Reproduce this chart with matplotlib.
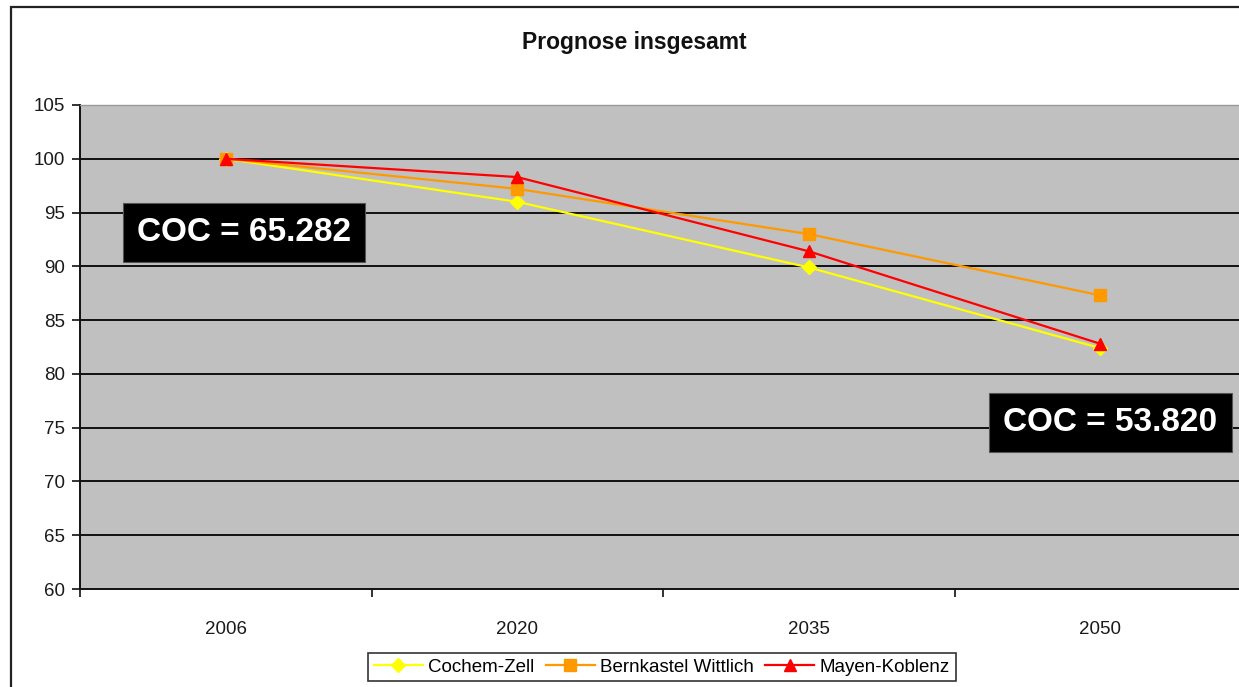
import matplotlib
matplotlib.use('Agg')
import matplotlib.pyplot as plt
from matplotlib.patches import Rectangle

plt.rcParams['font.family'] = ['Liberation Sans', 'DejaVu Sans']

# Daten: Index 2006 = 100
jahre = ['2006', '2020', '2035', '2050']
cochem_zell = [100.0, 96.0, 89.9, 82.4]
bernkastel_wittlich = [100.0, 97.2, 93.0, 87.3]
mayen_koblenz = [100.0, 98.3, 91.4, 82.8]
y_ticks = [60, 65, 70, 75, 80, 85, 90, 95, 100, 105]
gitter = [65, 70, 75, 80, 85, 90, 95, 100]

fig = plt.figure(figsize=(12.39, 6.87), dpi=100)
fig.patch.set_facecolor('white')

# Rahmen um das ganze Diagramm
fig.add_artist(Rectangle((11 / 1239, -0.1), 1.2, 1.1 - 7 / 687,
                         transform=fig.transFigure, fill=False,
                         edgecolor='#222222', linewidth=1.6, zorder=0))

ax = fig.add_axes([80 / 1239, 1 - 589 / 687, 1166 / 1239, 484 / 687])
ax.set_facecolor('#C0C0C0')

x = range(len(jahre))
for yy in gitter:
    ax.axhline(yy, color='#111111', linewidth=1.4, zorder=1)

ax.plot(x, cochem_zell, color='#FFFF00', linewidth=1.6, marker='D',
        markersize=7, label='Cochem-Zell', zorder=3)
ax.plot(x, bernkastel_wittlich, color='#FF9900', linewidth=1.6, marker='s',
        markersize=8, label='Bernkastel Wittlich', zorder=3)
ax.plot(x, mayen_koblenz, color='#FF0000', linewidth=1.6, marker='^',
        markersize=9, label='Mayen-Koblenz', zorder=4)

ax.set_xlim(-0.5, len(jahre) - 0.5)
ax.set_ylim(60, 105)
ax.set_yticks(y_ticks)
ax.set_xticks(list(x))
ax.set_xticklabels(jahre)
ax.set_xticks([i + 0.5 for i in range(-1, len(jahre))], minor=True)

ax.tick_params(axis='x', which='major', length=0, pad=23, labelsize=13.5,
               labelcolor='#1a1a1a')
ax.tick_params(axis='x', which='minor', length=6, width=1.2, color='#111111')
ax.tick_params(axis='y', length=6, width=1.2, pad=5, labelsize=13.5,
               color='#111111', labelcolor='#1a1a1a')

for s in ['left', 'bottom']:
    ax.spines[s].set_color('#111111')
    ax.spines[s].set_linewidth(1.4)
ax.spines['top'].set_color('#999999')
ax.spines['top'].set_linewidth(1.0)
ax.spines['right'].set_visible(False)

# COC-Kästchen
box = dict(boxstyle='square,pad=0.42', facecolor='black', edgecolor='#555555',
           linewidth=0.8)
ax.text(0.1407, 0.7366, 'COC = 65.282', transform=ax.transAxes, ha='center',
        va='center', color='white', fontsize=24, fontweight='bold', bbox=box,
        zorder=5)
ax.text(0.8838, 0.344, 'COC = 53.820', transform=ax.transAxes, ha='center',
        va='center', color='white', fontsize=24, fontweight='bold', bbox=box,
        zorder=5)

fig.text(634 / 1239, 1 - 42 / 687, 'Prognose insgesamt', ha='center',
         va='center', fontsize=16.5, fontweight='bold', color='#111111')

leg = fig.legend(loc='center', bbox_to_anchor=(662 / 1239, 1 - 667 / 687),
                 ncol=3, fontsize=13.5, frameon=True, fancybox=False,
                 edgecolor='black', handlelength=2.6, handletextpad=0.3,
                 columnspacing=0.6, borderpad=0.3, borderaxespad=0)
leg.get_frame().set_linewidth(1.2)

fig.savefig('out.png', dpi=100)
